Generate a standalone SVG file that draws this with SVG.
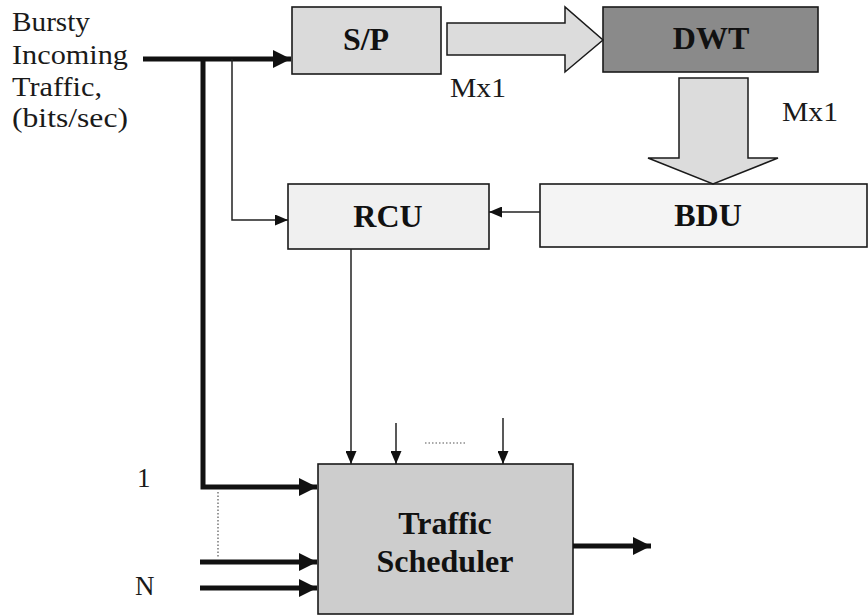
<svg xmlns="http://www.w3.org/2000/svg" width="868" height="615" viewBox="0 0 868 615" font-family="Liberation Serif, Times New Roman, serif">
  <style>
    .box { stroke: #1a1a1a; stroke-width: 1.6; }
    .label { font-size: 27px; fill: #1a1a1a; }
    .title { font-size: 32px; font-weight: bold; fill: #111; text-anchor: middle; }
    .thick { fill: none; stroke: #111; stroke-width: 5; stroke-linejoin: miter; }
    .thin { fill: none; stroke: #222; stroke-width: 1.5; }
    .dots { fill: none; stroke: #555; stroke-width: 1.2; stroke-dasharray: 1.5 2; }
    .fat { fill: #dcdcdc; stroke: #1a1a1a; stroke-width: 1.5; stroke-linejoin: miter; }
  </style>
  <defs>
    <marker id="headThick" markerUnits="userSpaceOnUse" markerWidth="18" markerHeight="18" refX="18" refY="9" orient="auto">
      <path d="M0,0 L18,9 L0,18 z" fill="#111"/>
    </marker>
    <marker id="headThin" markerUnits="userSpaceOnUse" markerWidth="13" markerHeight="11" refX="13" refY="5.5" orient="auto">
      <path d="M0,0 L13,5.5 L0,11 z" fill="#111"/>
    </marker>
  </defs>

  <!-- input label -->
  <g id="input-label">
    <text class="label" x="12" y="31" textLength="78" lengthAdjust="spacingAndGlyphs">Bursty</text>
    <text class="label" x="12" y="64" textLength="116" lengthAdjust="spacingAndGlyphs">Incoming</text>
    <text class="label" x="12" y="96" textLength="90" lengthAdjust="spacingAndGlyphs">Traffic,</text>
    <text class="label" x="12" y="127" textLength="116" lengthAdjust="spacingAndGlyphs">(bits/sec)</text>
  </g>

  <!-- processing blocks -->
  <g id="sp">
    <rect class="box" x="292" y="7" width="149" height="67" fill="#dadada"/>
    <text class="title" x="366" y="50">S/P</text>
  </g>
  <g id="dwt">
    <rect class="box" x="603" y="7" width="215" height="65" fill="#8a8a8a"/>
    <text class="title" x="711" y="49">DWT</text>
  </g>
  <g id="rcu">
    <rect class="box" x="288" y="184" width="201" height="65" fill="#f0f0f0"/>
    <text class="title" x="388" y="227">RCU</text>
  </g>
  <g id="bdu">
    <rect class="box" x="540" y="184" width="327" height="63" fill="#f4f4f4"/>
    <text class="title" x="708" y="226">BDU</text>
  </g>
  <g id="scheduler">
    <rect class="box" x="318" y="464" width="255" height="150" fill="#cdcdcd"/>
    <text class="title" x="445" y="534">Traffic</text>
    <text class="title" x="445" y="572">Scheduler</text>
  </g>

  <!-- connectors -->
  <g id="connectors">
    <!-- wide block arrows carrying the Mx1 vectors -->
    <path class="fat" d="M447,23 H565 V7 L603,40 L565,72 V55 H447 z"/>
    <path class="fat" d="M679,78 H748 V158 H778 L713,184 L648,158 H679 z"/>
    <text class="label" x="450" y="97" textLength="56" lengthAdjust="spacingAndGlyphs">Mx1</text>
    <text class="label" x="782" y="121" textLength="56" lengthAdjust="spacingAndGlyphs">Mx1</text>

    <!-- incoming traffic bus -->
    <path class="thick" d="M143,59 H291" marker-end="url(#headThick)"/>
    <path class="thick" d="M203,59 V487 H317" marker-end="url(#headThick)"/>
    <path class="thin" d="M232,59 V220 H288" marker-end="url(#headThin)"/>

    <!-- control signals -->
    <path class="thin" d="M540,212 H489" marker-end="url(#headThin)"/>
    <path class="thin" d="M351,249 V464" marker-end="url(#headThin)"/>
    <path class="thin" d="M396,423 V464" marker-end="url(#headThin)"/>
    <path class="thin" d="M503,418 V464" marker-end="url(#headThin)"/>
    <path class="dots" d="M425,443 H465"/>

    <!-- remaining traffic inputs and output -->
    <path class="thick" d="M200,562 H317" marker-end="url(#headThick)"/>
    <path class="thick" d="M200,588 H317" marker-end="url(#headThick)"/>
    <path class="dots" d="M218,492 V557"/>
    <path class="thick" d="M573,546 H651" marker-end="url(#headThick)"/>

    <text class="label" x="137" y="487">1</text>
    <text class="label" x="135" y="595">N</text>
  </g>
</svg>
